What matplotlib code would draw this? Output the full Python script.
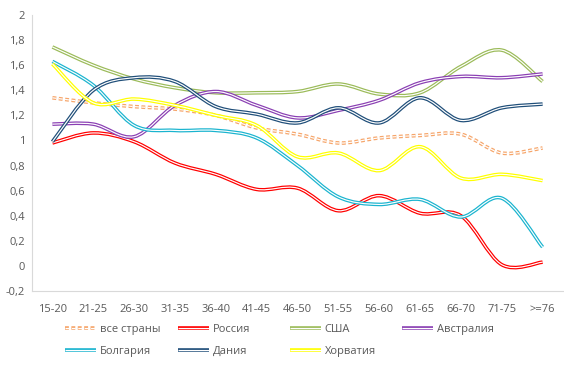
import matplotlib

matplotlib.use("Agg")
import matplotlib.pyplot as plt
import matplotlib.patheffects as pe
from matplotlib.path import Path
from matplotlib.patches import PathPatch
from matplotlib.lines import Line2D
from matplotlib.ticker import FuncFormatter

plt.rcParams.update({
    "font.family": ["Open Sans", "DejaVu Sans"],
    "font.size": 8,
    "lines.scale_dashes": False,
})

# ---- data ----
ages = ["15-20", "21-25", "26-30", "31-35", "36-40", "41-45", "46-50",
        "51-55", "56-60", "61-65", "66-70", "71-75", ">=76"]

all_countries = [1.34, 1.30, 1.27, 1.25, 1.20, 1.10, 1.05, 0.98, 1.02, 1.04, 1.05, 0.90, 0.94]
russia        = [0.98, 1.06, 0.99, 0.82, 0.73, 0.61, 0.62, 0.44, 0.56, 0.42, 0.40, 0.01, 0.03]
usa           = [1.745, 1.60, 1.49, 1.42, 1.38, 1.38, 1.39, 1.45, 1.37, 1.38, 1.59, 1.72, 1.47]
australia     = [1.13, 1.13, 1.03, 1.28, 1.39, 1.28, 1.18, 1.24, 1.32, 1.46, 1.51, 1.50, 1.53]
bulgaria      = [1.63, 1.44, 1.12, 1.08, 1.08, 1.02, 0.80, 0.55, 0.49, 0.53, 0.39, 0.54, 0.15]
denmark       = [0.99, 1.40, 1.50, 1.47, 1.27, 1.21, 1.14, 1.26, 1.14, 1.34, 1.16, 1.26, 1.29]
croatia       = [1.61, 1.30, 1.33, 1.28, 1.20, 1.12, 0.87, 0.90, 0.76, 0.95, 0.70, 0.73, 0.68]

series = [
    ("все страны", all_countries, "#F6A56A", True),
    ("Россия",     russia,        "#FF0000", False),
    ("США",        usa,           "#9BBB59", False),
    ("Австралия",  australia,     "#8A3FB3", False),
    ("Болгария",   bulgaria,      "#1AB4CF", False),
    ("Дания",      denmark,       "#1F4E79", False),
    ("Хорватия",   croatia,       "#FFFF00", False),
]

OUTER, INNER = 2.6, 0.85
DASH = (0, (2.8, 1.8))


def smooth_path(ys):
    """Excel-like smoothed line: Catmull-Rom segments as cubic Beziers."""
    n = len(ys)
    xs = list(range(n))
    verts = [(xs[0], ys[0])]
    codes = [Path.MOVETO]
    for i in range(n - 1):
        a = max(i - 1, 0)
        b = min(i + 2, n - 1)
        c1 = (xs[i] + (xs[i + 1] - xs[a]) / 6, ys[i] + (ys[i + 1] - ys[a]) / 6)
        c2 = (xs[i + 1] - (xs[b] - xs[i]) / 6, ys[i + 1] - (ys[b] - ys[i]) / 6)
        verts += [c1, c2, (xs[i + 1], ys[i + 1])]
        codes += [Path.CURVE4] * 3
    return Path(verts, codes)


fig = plt.figure(figsize=(5.64, 3.66), dpi=100)
ax = fig.add_axes([32 / 564, 75 / 366, 531 / 564, 276 / 366])

handles = []
for name, vals, color, dashed in series:
    ls = DASH if dashed else "-"
    effects = [pe.Stroke(linewidth=OUTER, foreground=color), pe.Normal()]
    patch = PathPatch(smooth_path(vals), fill=False, edgecolor="white",
                      linewidth=INNER, linestyle=ls, capstyle="butt",
                      path_effects=effects, zorder=3)
    ax.add_patch(patch)
    handles.append(Line2D([], [], color="white", lw=INNER, linestyle=ls,
                          solid_capstyle="butt", dash_capstyle="butt",
                          path_effects=effects, label=name))

ax.set_xlim(-0.5, len(ages) - 0.5)
ax.set_ylim(-0.2, 2.0)
ax.set_xticks(range(len(ages)))
ax.set_xticklabels(ages)
ax.set_yticks([-0.2, 0, 0.2, 0.4, 0.6, 0.8, 1.0, 1.2, 1.4, 1.6, 1.8, 2.0])
ax.yaxis.set_major_formatter(
    FuncFormatter(lambda v, p: f"{v:.1f}".rstrip("0").rstrip(".").replace(".", ",")
                  if abs(v) > 1e-9 else "0"))
ax.tick_params(length=0, colors="#595959", labelsize=8)
ax.tick_params(axis="y", pad=5)
ax.tick_params(axis="x", pad=9)
for sp in ("top", "right"):
    ax.spines[sp].set_visible(False)
for sp in ("left", "bottom"):
    ax.spines[sp].set_color("#D9D9D9")
    ax.spines[sp].set_linewidth(0.8)

# Excel legend: equal-width columns filled row by row
col_x = [59, 172, 284, 396]
for c, x0 in enumerate(col_x):
    hs = handles[c::4]
    leg = fig.legend(hs, [h.get_label() for h in hs], ncol=1,
                     loc="upper left", bbox_to_anchor=(x0 / 564, 1 - 318 / 366),
                     frameon=False, handlelength=2.8, handletextpad=0.35,
                     labelspacing=1.0, borderpad=0, fontsize=8)
    for t in leg.get_texts():
        t.set_color("#595959")

fig.savefig("out.png", dpi=100)
